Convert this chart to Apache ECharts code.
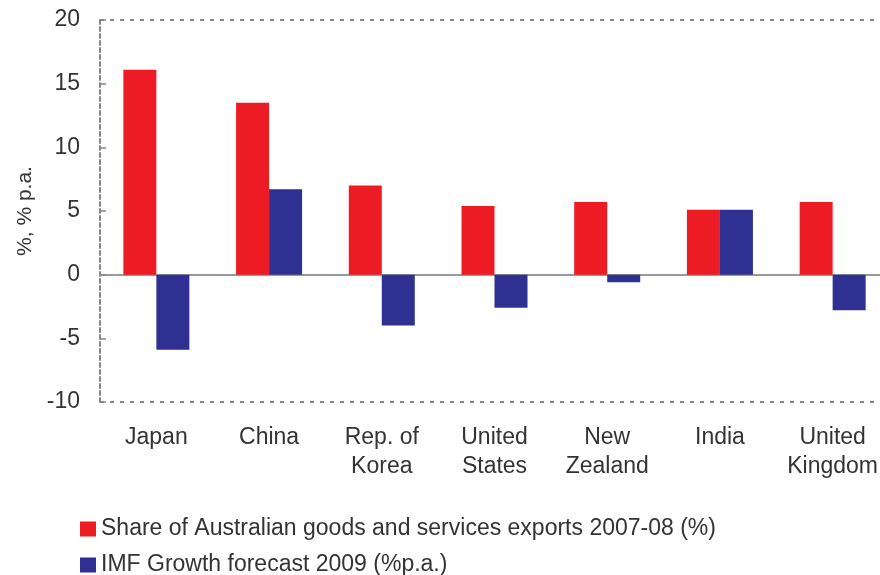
<!DOCTYPE html>
<html><head><meta charset="utf-8">
<script src="https://cdn.jsdelivr.net/npm/echarts@6/dist/echarts.min.js"></script>
<style>html,body{margin:0;padding:0;background:#fff}#c{width:880px;height:575px}</style>
</head><body><div id="c"></div>
<script>
const categories = ['Japan', 'China', 'Rep. of\nKorea', 'United\nStates', 'New\nZealand', 'India', 'United\nKingdom'];
const exportShare = [16.1, 13.5, 7.0, 5.4, 5.7, 5.1, 5.7];
const imfGrowth = [-5.9, 6.7, -4.0, -2.6, -0.6, 5.1, -2.8];
const seriesNames = ['Share of Australian goods and services exports 2007-08 (%)', 'IMF Growth forecast 2009 (%p.a.)'];
const yName = '%, % p.a.';

const FONT = "'Liberation Sans', Arial, sans-serif";
const TXT = '#333333';
const DASH = '#8c8581';
const legendText = { fontSize: 23, color: TXT, fontFamily: FONT, lineHeight: 24 };
const chart = echarts.init(document.getElementById('c'));
chart.setOption({
  animation: false,
  textStyle: { fontFamily: FONT },
  grid: { left: 100, top: 20, width: 789, height: 382, containLabel: false, outerBoundsMode: 'none' },
  legend: [{
    left: 75, top: 512, itemWidth: 16, itemHeight: 15, icon: 'rect',
    textStyle: legendText, data: [seriesNames[0]]
  }, {
    left: 75, top: 548, itemWidth: 16, itemHeight: 15, icon: 'rect',
    textStyle: legendText, data: [seriesNames[1]]
  }],
  xAxis: [{
    type: 'category', data: categories,
    axisLine: { onZero: true, lineStyle: { color: '#999999', width: 2 } },
    axisTick: { inside: true, length: 7, lineStyle: { color: '#777777', width: 2 } },
    axisLabel: { show: false }
  }, {
    type: 'category', data: categories, position: 'bottom',
    axisLine: { show: false, onZero: false }, axisTick: { show: false },
    axisLabel: { interval: 0, margin: 21, fontSize: 23, color: TXT, lineHeight: 29, fontFamily: FONT }
  }],
  yAxis: {
    type: 'value', min: -10, max: 20, interval: 5,
    name: yName, nameLocation: 'middle', nameGap: 64, nameRotate: 90,
    nameTextStyle: { fontSize: 21, color: TXT, fontFamily: FONT },
    axisLine: { show: true, lineStyle: { color: DASH, width: 2, type: [4, 3] } },
    axisTick: { show: true, inside: true, length: 6, lineStyle: { color: DASH, width: 1.5 } },
    axisLabel: { fontSize: 23, color: TXT, margin: 20, fontFamily: FONT },
    splitLine: { show: true, lineStyle: { type: [4, 6], width: 2,
      color: [DASH, 'transparent', 'transparent', 'transparent', 'transparent', 'transparent', DASH] } }
  },
  series: [{
    name: seriesNames[0], type: 'bar', data: exportShare, barWidth: 33, barGap: '0%',
    itemStyle: { color: '#ED1C24' }
  }, {
    name: seriesNames[1], type: 'bar', data: imfGrowth, barWidth: 33, barGap: '0%',
    itemStyle: { color: '#2E3192' }
  }]
});
</script></body></html>
